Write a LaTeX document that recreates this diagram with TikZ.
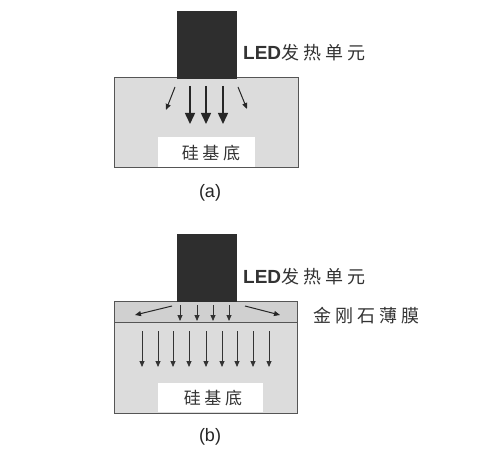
\documentclass[tikz,border=0pt]{standalone}
\usepackage{fontspec}
\setmainfont{Liberation Sans}
\newfontfamily\cjk[LetterSpace=22]{Noto Sans CJK SC}
\newfontfamily\cjkb[LetterSpace=22]{Noto Sans CJK SC}
\usetikzlibrary{arrows.meta}
\definecolor{subfill}{HTML}{DCDCDC}
\definecolor{filmfill}{HTML}{D0D0D0}
\definecolor{ledfill}{HTML}{2E2E2E}
\definecolor{edge}{HTML}{555555}
\begin{document}
\begin{tikzpicture}[x=1pt,y=-1pt,
  ledbox/.style={draw=ledfill,fill=ledfill},
  subbox/.style={draw=edge,line width=1pt,fill=subfill},
  labbox/.style={fill=white,draw=none},
  cjklab/.style={font=\cjk\fontsize{17}{17}\selectfont,text=black!80,inner sep=0pt},
  ledlab/.style={font=\fontsize{19}{19}\selectfont\bfseries,text=black!80,inner sep=0pt,anchor=west},
  caplab/.style={font=\fontsize{18}{18}\selectfont,text=black!85,inner sep=0pt},
  bigarr/.style={-{Triangle[length=11pt,width=10pt]},line width=1.5pt,draw=black!85},
  slarr/.style={-{Triangle[length=6pt,width=5pt]},line width=1pt,draw=black!85},
  smarr/.style={-{Triangle[length=6pt,width=5pt]},line width=0.8pt,draw=black!80},
]
\useasboundingbox (0,0) rectangle (500,462);
\fill[white] (0,0) rectangle (500,462);

% ---------- (a) ----------
\draw[subbox] (114,78) rectangle (298,168);
\fill[labbox] (158,137) rectangle (255,167);
\node[cjklab] (sa) at (211,153) {硅基底};
\draw[ledbox] (177,11) rectangle (236,78);
\node[ledlab] (la) at (243,53) {LED{\cjkb\mdseries\fontsize{18}{18}\selectfont 发热单元}};
\node[caplab] (ca) at (210,193) {(a)};
\coordinate (a1s) at (190,86); \coordinate (a1e) at (190,124);
\coordinate (a2s) at (206,86); \coordinate (a2e) at (206,124);
\coordinate (a3s) at (223,86); \coordinate (a3e) at (223,124);
\draw[bigarr] (a1s) -- (a1e);
\draw[bigarr] (a2s) -- (a2e);
\draw[bigarr] (a3s) -- (a3e);
\coordinate (a4s) at (175,87); \coordinate (a4e) at (166,110);
\coordinate (a5s) at (238,87); \coordinate (a5e) at (247,109);
\draw[slarr] (a4s) -- (a4e);
\draw[slarr] (a5s) -- (a5e);

% ---------- (b) ----------
\draw[subbox] (114,301) rectangle (297,413);
\draw[subbox,fill=filmfill] (114,301) rectangle (297,322);
\fill[labbox] (158,383) rectangle (263,412);
\node[cjklab] (sb) at (213,398) {硅基底};
\draw[ledbox] (177,234) rectangle (236,301);
\node[ledlab] (lb) at (243,277) {LED{\cjkb\mdseries\fontsize{18}{18}\selectfont 发热单元}};
\node[cjklab,anchor=west,font=\cjk\fontsize{18}{18}\selectfont] (fb) at (313,316) {金刚石薄膜};
\node[caplab] (cb) at (210,437) {(b)};
\foreach \x [count=\i] in {180,197,213,229}{
  \coordinate (f\i s) at (\x,305); \coordinate (f\i e) at (\x,321);
  \draw[smarr] (f\i s) -- (f\i e);
}
\coordinate (fls) at (172,306); \coordinate (fle) at (135,315);
\coordinate (frs) at (245,306); \coordinate (fre) at (280,315);
\draw[slarr] (fls) -- (fle);
\draw[slarr] (frs) -- (fre);
\foreach \x [count=\i] in {142,158,173,189,206,222,237,253,269}{
  \coordinate (s\i s) at (\x,331); \coordinate (s\i e) at (\x,367);
  \draw[smarr] (s\i s) -- (s\i e);
}
\end{tikzpicture}
\end{document}
